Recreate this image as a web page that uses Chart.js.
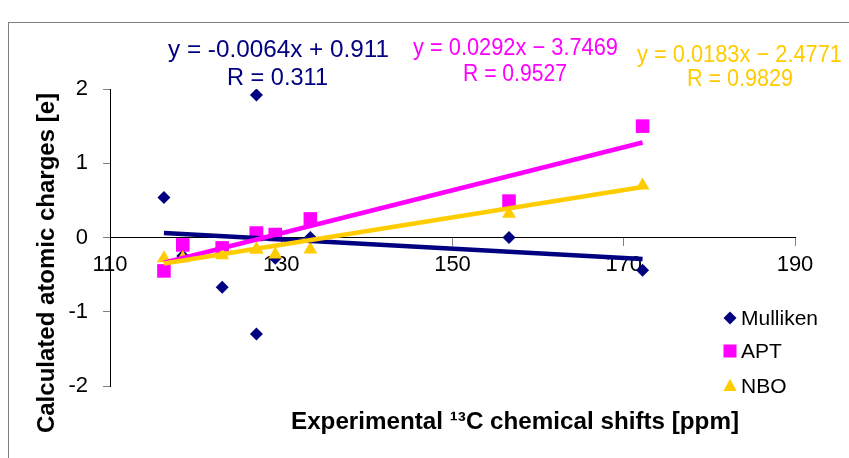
<!DOCTYPE html>
<html><head><meta charset="utf-8">
<script src="https://cdn.jsdelivr.net/npm/chart.js@4"></script>
<style>
html,body{margin:0;padding:0;background:#fff;overflow:hidden;}
#wrap{position:relative;width:849px;height:458px;overflow:hidden;}
#frame{position:absolute;left:8px;top:22px;width:900px;height:500px;border-left:1px solid #808080;border-top:1px solid #808080;}
canvas{position:absolute;left:0;top:0;}
</style></head>
<body><div id="wrap"><div id="frame"></div><canvas id="c" width="849" height="458"></canvas></div>
<script>
// ---- data ----
const shifts   = [116.3, 118.5, 123.1, 127.1, 127.1, 129.3, 133.4, 156.6, 172.2];
const mulliken = [0.54, -0.25, -0.67, 1.92, -1.30, -0.28, 0.00, 0.00, -0.44];
const apt      = [-0.45, -0.10, -0.14, 0.06, 0.04, 0.04, 0.25, 0.49, 1.50];
const nbo      = [-0.28, -0.28, -0.24, -0.16, -0.16, -0.23, -0.16, 0.32, 0.70];
const trendX        = [116.3, 172.2];
const mullikenTrend = [0.06, -0.29];
const aptTrend      = [-0.34, 1.28];
const nboTrend      = [-0.35, 0.68];
const xTicks = [110, 130, 150, 170, 190];
const yTicks = [-2, -1, 0, 1, 2];
const seriesNames = ['Mulliken', 'APT', 'NBO'];
const equations = [
  ['y = -0.0064x + 0.911', 'R = 0.311'],
  ['y = 0.0292x \u2212 3.7469', 'R = 0.9527'],
  ['y = 0.0183x \u2212 2.4771', 'R = 0.9829']
];
const xTitle = 'Experimental \u00B9\u00B3C chemical shifts [ppm]';
const yTitle = 'Calculated atomic charges [e]';

// ---- styles ----
const FONT = '"Liberation Sans", Arial, sans-serif';
const colors = ['#000080', '#FF00FF', '#FFCC00'];
const pStyles = ['rectRot', 'rect', 'triangle'];
const pRadius = [6.5, 9.6, 8];
const pts = (xs, ys) => xs.map((x, i) => ({x: x, y: ys[i]}));

const datasets = [];
[mulliken, apt, nbo].forEach((vals, i) => {
  datasets.push({
    label: seriesNames[i], data: pts(shifts, vals), showLine: false,
    pointStyle: pStyles[i], pointRadius: pRadius[i], pointHoverRadius: pRadius[i],
    backgroundColor: colors[i], borderColor: colors[i], pointBorderWidth: 0,
    order: 6 - i
  });
});
[mullikenTrend, aptTrend, nboTrend].forEach((vals, i) => {
  datasets.push({
    label: seriesNames[i] + ' trend', data: pts(trendX, vals), showLine: true,
    pointRadius: 0, borderColor: colors[i], borderWidth: 4.5, fill: false,
    order: 3 - i
  });
});

function drawMarker(ctx, style, x, y, r, color) {
  ctx.save();
  ctx.fillStyle = color;
  ctx.beginPath();
  if (style === 'rectRot') {
    ctx.moveTo(x - r, y); ctx.lineTo(x, y - r); ctx.lineTo(x + r, y); ctx.lineTo(x, y + r);
  } else if (style === 'rect') {
    ctx.rect(x - r, y - r, 2 * r, 2 * r);
  } else {
    ctx.moveTo(x, y - r * 1.1); ctx.lineTo(x + r, y + r * 0.75); ctx.lineTo(x - r, y + r * 0.75);
  }
  ctx.closePath();
  ctx.fill();
  ctx.restore();
}

function fitText(ctx, text, cx, base, width) {
  const w = ctx.measureText(text).width;
  ctx.save();
  ctx.translate(cx, base);
  ctx.scale(width / w, 1);
  ctx.fillText(text, 0, 0);
  ctx.restore();
}

const textPlugin = {
  id: 'texts',
  afterDraw(chart) {
    const ctx = chart.ctx;
    ctx.save();
    // equations: [centerX, baseline, width] for each line
    const eqPos = [
      [[278.5, 56.7, 221], [277.5, 85, 101]],
      [[515.5, 55, 205], [515, 80.5, 104]],
      [[739.5, 61.5, 205], [740, 85.5, 106]]
    ];
    ctx.font = '24px ' + FONT;
    ctx.textAlign = 'center';
    ctx.textBaseline = 'alphabetic';
    equations.forEach((eq, i) => {
      ctx.fillStyle = colors[i];
      eq.forEach((line, j) => fitText(ctx, line, eqPos[i][j][0], eqPos[i][j][1], eqPos[i][j][2]));
    });
    // axis titles
    ctx.fillStyle = '#000';
    ctx.font = 'bold 24px ' + FONT;
    fitText(ctx, xTitle, 515, 429, 448);
    ctx.save();
    ctx.translate(54, 263);
    ctx.rotate(-Math.PI / 2);
    ctx.fillText(yTitle, 0, 0);
    ctx.restore();
    // legend
    const legY = [318, 351, 386];
    const legR = [6.5, 6.5, 6.6];
    ctx.font = '21px ' + FONT;
    ctx.textAlign = 'left';
    ctx.textBaseline = 'middle';
    seriesNames.forEach((n, i) => {
      drawMarker(ctx, pStyles[i], 730, legY[i], legR[i], colors[i]);
      ctx.fillStyle = '#000';
      ctx.fillText(n, 741, legY[i] + 1);
    });
    ctx.restore();
  }
};

new Chart(document.getElementById('c'), {
  type: 'scatter',
  data: {datasets: datasets},
  options: {
    responsive: false, animation: false,
    layout: {padding: {left: 0, top: 89, right: 54, bottom: 72}},
    plugins: {legend: {display: false}, tooltip: {enabled: false}, title: {display: false}},
    scales: {
      x: {
        type: 'linear', min: 110, max: 190, position: {y: 0},
        afterBuildTicks: s => { s.ticks = xTicks.map(v => ({value: v})); },
        grid: {drawOnChartArea: false, drawTicks: true, tickLength: 8, color: '#808080'},
        border: {display: true, color: '#000', width: 1},
        ticks: {color: '#000', font: {family: FONT, size: 22}, padding: 6, maxRotation: 0, autoSkip: false}
      },
      y: {
        type: 'linear', min: -2, max: 2, position: 'left',
        afterBuildTicks: s => { s.ticks = yTicks.map(v => ({value: v})); },
        afterFit: s => { s.width = 110; },
        grid: {drawOnChartArea: false, drawTicks: true, tickLength: 7, color: '#808080'},
        border: {display: true, color: '#000', width: 1},
        ticks: {color: '#000', font: {family: FONT, size: 22}, padding: 15, autoSkip: false}
      }
    }
  },
  plugins: [textPlugin]
});
</script>
</body></html>
